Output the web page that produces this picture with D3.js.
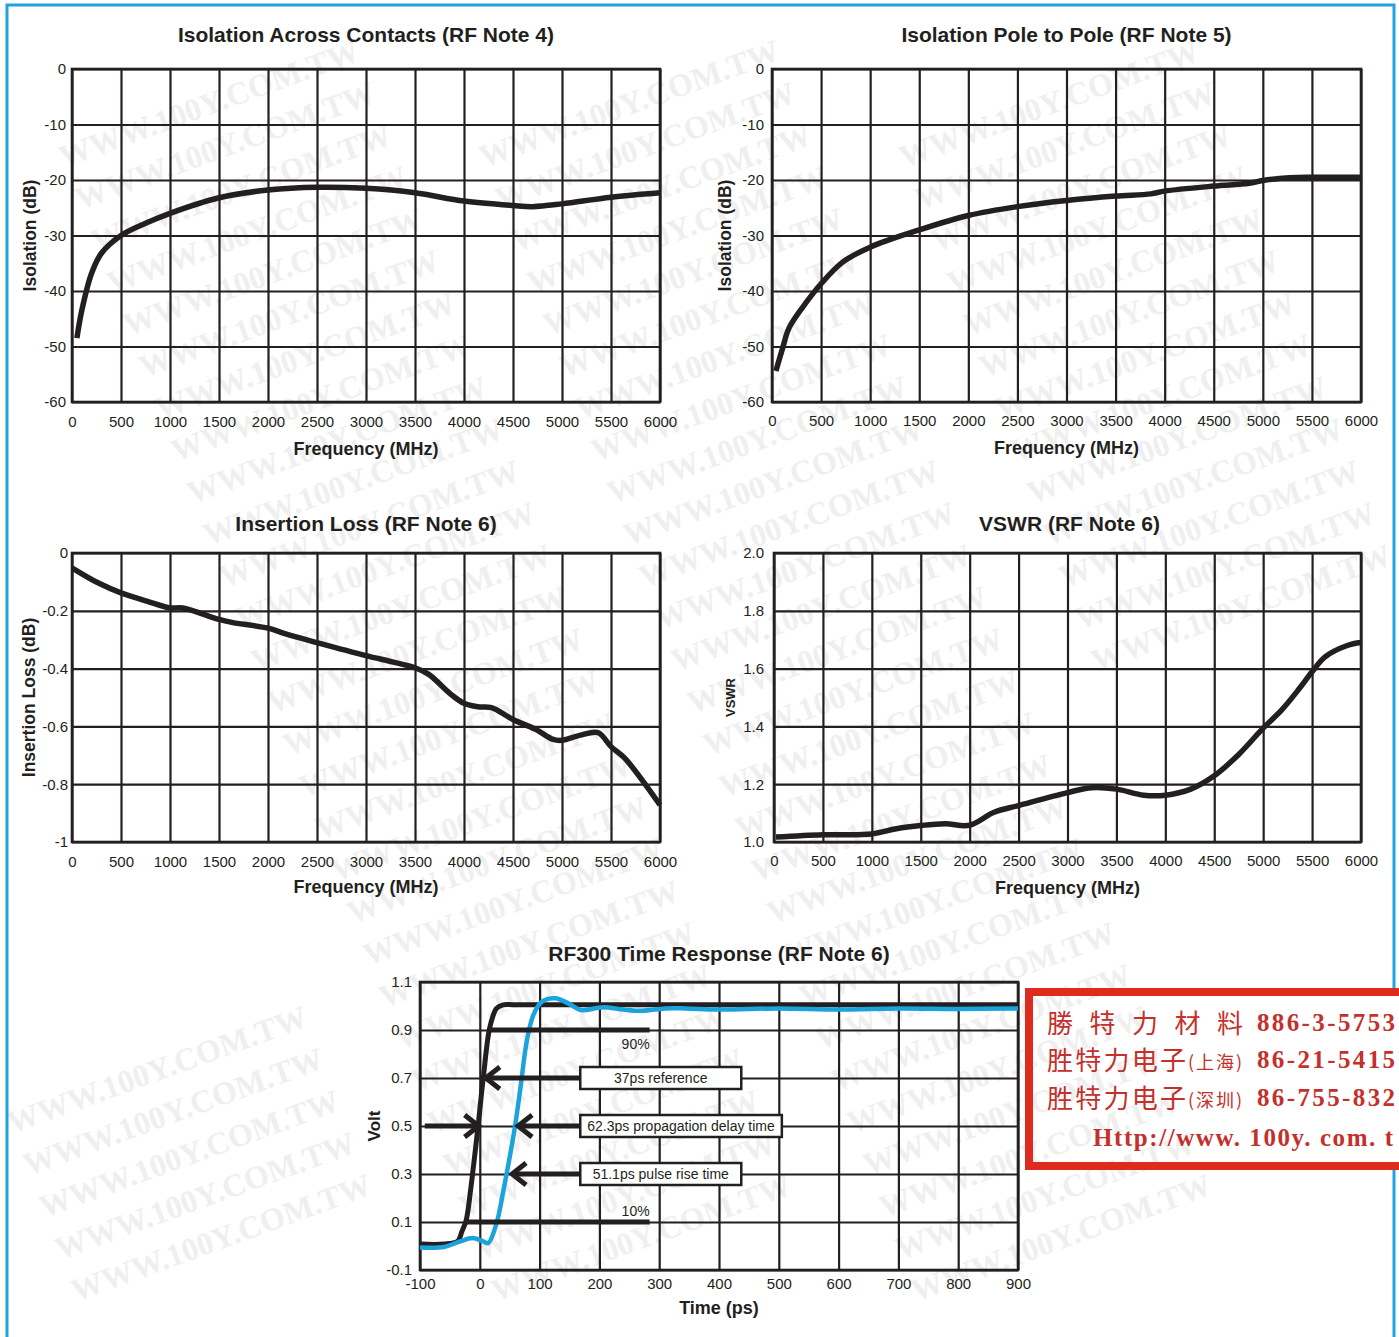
<!DOCTYPE html>
<html>
<head>
<meta charset="utf-8">
<script src="https://cdn.jsdelivr.net/npm/d3@7"></script>
<style>
  body { margin: 0; background: #fff; overflow: hidden; }
  svg { display: block; }
</style>
</head>
<body>
<svg id="page" width="1399" height="1337"></svg>
<script>
// ---- data ----
const freqTicks = [0, 500, 1000, 1500, 2000, 2500, 3000, 3500, 4000, 4500, 5000, 5500, 6000];

const isoTicks = [0, -10, -20, -30, -40, -50, -60];

const isoContactsFreq = [50, 100, 200, 300, 500, 750, 1000, 1500, 2000, 2500, 3000, 3500, 4000, 4500, 4700, 5000, 5500, 6000];
const isoContactsDb = [-48.5, -43.5, -36.8, -33.2, -30.0, -27.8, -26.0, -23.2, -21.8, -21.3, -21.5, -22.3, -23.8, -24.6, -24.8, -24.3, -23.1, -22.3];

const isoPoleFreq = [40, 110, 175, 360, 500, 720, 1000, 1500, 2000, 2500, 3000, 3500, 3860, 4000, 4500, 4860, 5000, 5270, 5500, 6000];
const isoPoleDb = [-54.4, -50.2, -46.6, -41.8, -38.7, -34.8, -32.1, -29.0, -26.4, -24.8, -23.7, -22.9, -22.5, -22.0, -21.1, -20.6, -20.1, -19.6, -19.5, -19.5];

const lossTicks = [0, -0.2, -0.4, -0.6, -0.8, -1];
const lossTickLabels = ["0", "-0.2", "-0.4", "-0.6", "-0.8", "-1"];
const lossFreq = [3, 270, 500, 770, 1000, 1130, 1500, 1630, 2000, 2180, 2500, 3000, 3270, 3500, 3640, 3870, 4000, 4140, 4280, 4500, 4730, 4910, 5000, 5190, 5370, 5500, 5640, 6000];
const lossDb = [-0.052, -0.104, -0.138, -0.167, -0.19, -0.19, -0.23, -0.24, -0.26, -0.28, -0.31, -0.355, -0.377, -0.397, -0.42, -0.49, -0.52, -0.532, -0.535, -0.576, -0.61, -0.645, -0.648, -0.63, -0.622, -0.67, -0.71, -0.872];

const vswrTicks = [1.0, 1.2, 1.4, 1.6, 1.8, 2.0];
const vswrTickLabels = ["1.0", "1.2", "1.4", "1.6", "1.8", "2.0"];
const vswrFreq = [20, 500, 1000, 1250, 1500, 1750, 2000, 2250, 2500, 3000, 3250, 3500, 3780, 4000, 4260, 4500, 4750, 5000, 5190, 5370, 5500, 5630, 5860, 6000];
const vswrVal = [1.017, 1.025, 1.028, 1.046, 1.057, 1.063, 1.058, 1.103, 1.126, 1.171, 1.188, 1.183, 1.162, 1.162, 1.183, 1.229, 1.303, 1.394, 1.457, 1.531, 1.589, 1.64, 1.68, 1.69];

const timeTicks = [-100, 0, 100, 200, 300, 400, 500, 600, 700, 800, 900];
const voltTicks = [-0.1, 0.1, 0.3, 0.5, 0.7, 0.9, 1.1];
const voltTickLabels = ["-0.1", "0.1", "0.3", "0.5", "0.7", "0.9", "1.1"];

const refTime = [-100, -60, -37, -30, -22.7, -15.4, -10, -3, 6, 17, 28, 39, 60, 900];
const refVolt = [0.008, 0.008, 0.02, 0.06, 0.108, 0.233, 0.345, 0.497, 0.705, 0.914, 0.99, 1.005, 1.005, 1.005];

const dutTime = [-100, -60, -34, -12, 5, 14, 28, 39, 50, 59, 68, 79, 90, 104, 126, 148, 169, 206, 240, 271, 310, 343, 400, 500, 600, 700, 800, 900];
const dutVolt = [-0.006, -0.004, 0.018, 0.033, 0.02, 0.012, 0.095, 0.225, 0.37, 0.5, 0.66, 0.86, 0.965, 1.018, 1.032, 1.011, 0.983, 0.995, 0.985, 0.98, 0.99, 0.99, 0.985, 0.99, 0.985, 0.99, 0.988, 0.99];

const levelLabels = ["90%", "10%"];
const levelVolts = [0.9, 0.1];
const levelFrom = [17, -23];
const levelTo = [284, 284];

const calloutLabels = ["37ps reference", "62.3ps propagation delay time", "51.1ps pulse rise time"];
const calloutVolts = [0.7, 0.5, 0.3];
const calloutTips = [10, 64, 54];

const delayStart = [-92, -2];   // right-pointing arrow at 0.5 V, from / tip (ps)

const contactLines = ["勝 特 力 材 料", "胜特力电子", "胜特力电子"];
const contactCities = ["", "(上海)", "(深圳)"];
const contactPhones = ["886-3-5753", "86-21-5415", "86-755-832"];
const contactUrl = "Http://www. 100y. com. t";

// ---- drawing ----
const svg = d3.select("#page");
const ink = "#231f20";
const sans = "'Liberation Sans', Arial, Helvetica, sans-serif";
const W = 1399, H = 1337;

// faint watermark in the background; only copies that fit on the page are kept
const wm = svg.append("g")
  .attr("fill", "#efefef")
  .attr("font-family", "'Liberation Serif', 'Times New Roman', serif")
  .attr("font-weight", "bold")
  .attr("font-size", 32);
for (let r = 0; r < 36; r++) {
  for (let c = -2; c < 4; c++) {
    const t = wm.append("text")
      .attr("transform", `translate(${c * 420 + r * 16},${r * 42}) rotate(-20)`)
      .text("WWW.100Y.COM.TW");
    const b = t.node().getBoundingClientRect();
    if (b.left < 1 || b.top < 1 || b.right > W - 1 || b.bottom > H - 1) t.remove();
  }
}

// blue page border (right side hidden behind the red contact box)
svg.append("path")
  .attr("d", "M1394,988 V5 H7 V1345 M1394,1170 V1345")
  .attr("fill", "none")
  .attr("stroke", "#1fa3de")
  .attr("stroke-width", 3);

function chart(o) {
  const g = svg.append("g");
  const x = d3.scaleLinear().domain(o.xDomain).range([o.left, o.right]);
  const y = d3.scaleLinear().domain(o.yDomain).range([o.bottom, o.top]);
  const w = o.right - o.left, h = o.bottom - o.top;

  const styleAxis = sel => {
    sel.attr("font-family", sans).attr("font-size", 15).attr("color", ink);
    sel.select(".domain").remove();
    sel.selectAll(".tick line").attr("stroke-width", 2.2);
  };

  g.append("g")
    .attr("transform", `translate(0,${o.bottom})`)
    .call(d3.axisBottom(x).tickValues(o.xTicks).tickFormat((d, i) => o.xLabels[i])
      .tickSize(-h).tickPadding(o.xPad))
    .call(styleAxis);

  g.append("g")
    .attr("transform", `translate(${o.left},0)`)
    .call(d3.axisLeft(y).tickValues(o.yTicks).tickFormat((d, i) => o.yLabels[i])
      .tickSize(-w).tickPadding(o.yPad))
    .call(styleAxis);

  g.append("rect")
    .attr("x", o.left).attr("y", o.top)
    .attr("width", w).attr("height", h)
    .attr("fill", "none")
    .attr("stroke", ink)
    .attr("stroke-width", 2.6);

  g.append("text")
    .attr("x", (o.left + o.right) / 2 + (o.titleShift || 0))
    .attr("y", o.titleY)
    .attr("text-anchor", "middle")
    .attr("font-family", sans).attr("font-weight", "bold").attr("font-size", 21)
    .attr("fill", ink)
    .text(o.title);

  g.append("text")
    .attr("x", (o.left + o.right) / 2)
    .attr("y", o.xLabelY)
    .attr("text-anchor", "middle")
    .attr("font-family", sans).attr("font-weight", "bold").attr("font-size", 18)
    .attr("fill", ink)
    .text(o.xLabel);

  g.append("text")
    .attr("transform", `translate(${o.yLabelX},${(o.top + o.bottom) / 2}) rotate(-90)`)
    .attr("dy", "0.35em")
    .attr("text-anchor", "middle")
    .attr("font-family", sans).attr("font-weight", "bold").attr("font-size", o.yLabelSize || 17.5)
    .attr("fill", ink)
    .text(o.yLabel);

  return { g, x, y };
}

function curve(c, xs, ys, color, width) {
  const pts = xs.map((v, i) => [v, ys[i]]);
  c.g.append("path")
    .datum(pts)
    .attr("fill", "none")
    .attr("stroke", color)
    .attr("stroke-width", width)
    .attr("stroke-linejoin", "round")
    .attr("d", d3.line()
      .x(d => c.x(d[0]))
      .y(d => c.y(d[1]))
      .curve(d3.curveCatmullRom.alpha(0.5)));
}

const freqLabels = freqTicks.map(String);
const isoLabels = isoTicks.map(String);

const c1 = chart({
  left: 72, right: 660, top: 69, bottom: 402,
  xDomain: [0, 6000], yDomain: [-60, 0],
  xTicks: freqTicks, xLabels: freqLabels, yTicks: isoTicks, yLabels: isoLabels,
  xPad: 14, yPad: 6,
  title: "Isolation Across Contacts (RF Note 4)", titleY: 42,
  xLabel: "Frequency (MHz)", xLabelY: 455,
  yLabel: "Isolation (dB)", yLabelX: 30
});
curve(c1, isoContactsFreq, isoContactsDb, ink, 5.5);

const c2 = chart({
  left: 772, right: 1361, top: 69, bottom: 402,
  xDomain: [0, 6000], yDomain: [-60, 0],
  xTicks: freqTicks, xLabels: freqLabels, yTicks: isoTicks, yLabels: isoLabels,
  xPad: 13, yPad: 8,
  title: "Isolation Pole to Pole (RF Note 5)", titleY: 42,
  xLabel: "Frequency (MHz)", xLabelY: 454,
  yLabel: "Isolation (dB)", yLabelX: 725
});
curve(c2, isoPoleFreq, isoPoleDb, ink, 5.5);

const c3 = chart({
  left: 72, right: 660, top: 553, bottom: 842,
  xDomain: [0, 6000], yDomain: [-1, 0],
  xTicks: freqTicks, xLabels: freqLabels, yTicks: lossTicks, yLabels: lossTickLabels,
  xPad: 14, yPad: 4,
  title: "Insertion Loss (RF Note 6)", titleY: 531,
  xLabel: "Frequency (MHz)", xLabelY: 893,
  yLabel: "Insertion Loss (dB)", yLabelX: 29
});
curve(c3, lossFreq, lossDb, ink, 5.5);

const c4 = chart({
  left: 774, right: 1361, top: 553, bottom: 842,
  xDomain: [0, 6000], yDomain: [1, 2],
  xTicks: freqTicks, xLabels: freqLabels, yTicks: vswrTicks, yLabels: vswrTickLabels,
  xPad: 13, yPad: 10,
  title: "VSWR (RF Note 6)", titleY: 531, titleShift: 2,
  xLabel: "Frequency (MHz)", xLabelY: 894,
  yLabel: "VSWR", yLabelX: 730, yLabelSize: 13
});
curve(c4, vswrFreq, vswrVal, ink, 5.5);

const c5 = chart({
  left: 420, right: 1018, top: 982, bottom: 1270,
  xDomain: [-100, 900], yDomain: [-0.1, 1.1],
  xTicks: timeTicks, xLabels: timeTicks.map(String), yTicks: voltTicks, yLabels: voltTickLabels,
  xPad: 8, yPad: 8,
  title: "RF300 Time Response (RF Note 6)", titleY: 961,
  xLabel: "Time (ps)", xLabelY: 1314,
  yLabel: "Volt", yLabelX: 374, yLabelSize: 17
});
curve(c5, refTime, refVolt, ink, 5);
curve(c5, dutTime, dutVolt, "#1ba3dd", 4.5);

// 90% / 10% reference levels
levelLabels.forEach((lab, i) => {
  const yv = c5.y(levelVolts[i]);
  c5.g.append("line")
    .attr("x1", c5.x(levelFrom[i])).attr("x2", c5.x(levelTo[i]))
    .attr("y1", yv).attr("y2", yv)
    .attr("stroke", ink).attr("stroke-width", 5);
  c5.g.append("text")
    .attr("x", c5.x(levelTo[i]) - 14)
    .attr("y", i === 0 ? yv + 19 : yv - 6)
    .attr("text-anchor", "middle")
    .attr("font-family", sans).attr("font-size", 14)
    .attr("fill", ink)
    .text(lab);
});

function chevron(g, xt, yt, dir) {
  g.append("path")
    .attr("d", `M${xt - dir * 14},${yt - 11} L${xt},${yt} L${xt - dir * 14},${yt + 11}`)
    .attr("fill", "none")
    .attr("stroke", ink)
    .attr("stroke-width", 5)
    .attr("stroke-linejoin", "miter");
}

// callout boxes with arrows
const boxLeft = c5.x(168);
calloutLabels.forEach((lab, i) => {
  const yv = c5.y(calloutVolts[i]);
  const xt = c5.x(calloutTips[i]);
  c5.g.append("line")
    .attr("x1", xt + 3).attr("x2", boxLeft)
    .attr("y1", yv).attr("y2", yv)
    .attr("stroke", ink).attr("stroke-width", 5);
  chevron(c5.g, xt, yv, -1);

  const t = c5.g.append("text")
    .attr("y", yv)
    .attr("dy", "0.35em")
    .attr("text-anchor", "middle")
    .attr("font-family", sans).attr("font-size", 14)
    .attr("fill", ink)
    .text(lab);
  const tw = t.node().getComputedTextLength();
  const bw = Math.max(161, tw + 14);
  c5.g.insert("rect", () => t.node())
    .attr("x", boxLeft).attr("y", yv - 11)
    .attr("width", bw).attr("height", 22)
    .attr("fill", "#fff")
    .attr("stroke", ink).attr("stroke-width", 2.5);
  t.attr("x", boxLeft + bw / 2);
});

// arrow from the left onto the reference edge at 50%
{
  const yv = c5.y(0.5);
  const xt = c5.x(delayStart[1]);
  c5.g.append("line")
    .attr("x1", c5.x(delayStart[0])).attr("x2", xt - 3)
    .attr("y1", yv).attr("y2", yv)
    .attr("stroke", ink).attr("stroke-width", 5);
  chevron(c5.g, xt, yv, 1);
}

// red contact stamp
const red = "#df2a1e", redText = "#c4302b";
svg.append("rect")
  .attr("x", 1029).attr("y", 992)
  .attr("width", 420).attr("height", 174)
  .attr("fill", "none")
  .attr("stroke", red).attr("stroke-width", 8);

const stamp = svg.append("g").attr("fill", redText);
const rowY = [1033, 1070, 1108];
contactLines.forEach((s, i) => {
  stamp.append("text")
    .attr("x", 1047).attr("y", rowY[i])
    .attr("font-family", i === 0 ? "'Noto Sans CJK TC'" : "'Noto Sans CJK SC'")
    .attr("font-size", 26)
    .attr("textLength", i === 0 ? 196 : 139)
    .text(s);
  if (contactCities[i]) {
    stamp.append("text")
      .attr("x", 1188).attr("y", rowY[i] - 1)
      .attr("font-family", "'Noto Sans CJK SC'")
      .attr("font-size", 18)
      .attr("textLength", 54)
      .text(contactCities[i]);
  }
  stamp.append("text")
    .attr("x", 1257).attr("y", rowY[i] - 2)
    .attr("font-family", "'Liberation Serif', serif")
    .attr("font-weight", "bold")
    .attr("font-size", 25)
    .attr("textLength", 138)
    .text(contactPhones[i]);
});
stamp.append("text")
  .attr("x", 1093).attr("y", 1146)
  .attr("font-family", "'Liberation Serif', serif")
  .attr("font-weight", "bold")
  .attr("font-size", 25)
  .attr("textLength", 300)
  .text(contactUrl);
</script>
</body>
</html>
